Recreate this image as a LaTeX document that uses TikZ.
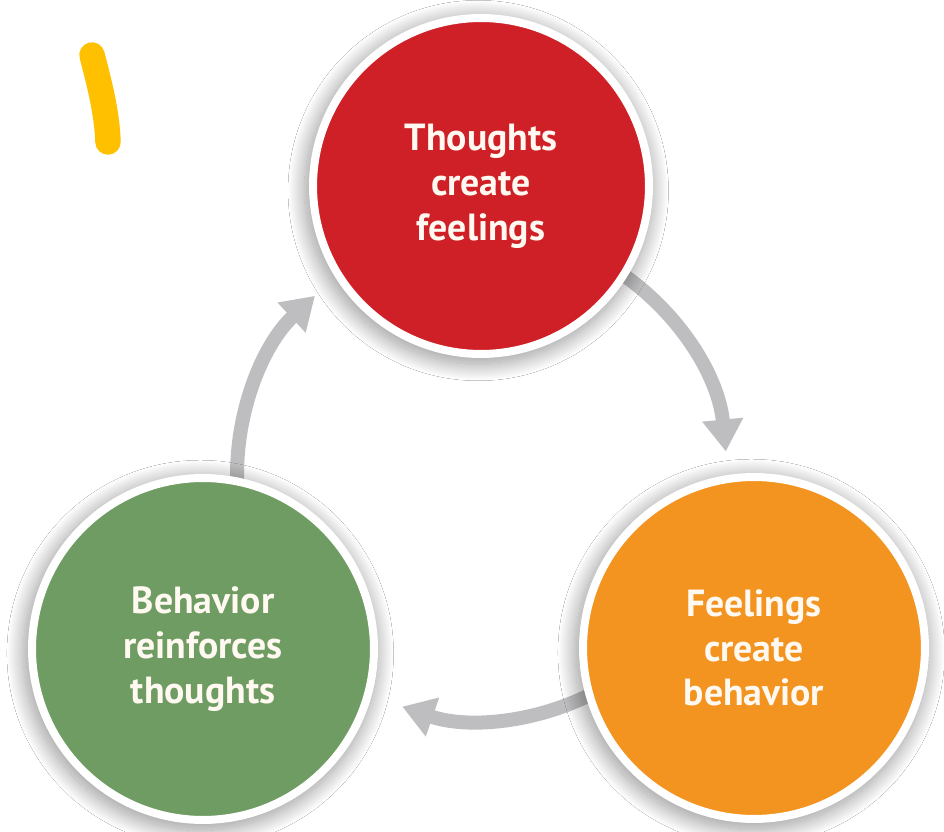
\documentclass[tikz,border=0pt]{standalone}
\usepackage{fontspec}
\setmainfont{PT Sans}
\usetikzlibrary{arrows.meta,shadows.blur,calc}
\definecolor{cred}{HTML}{CF2027}
\definecolor{corange}{HTML}{F39420}
\definecolor{cgreen}{HTML}{6F9C62}
\definecolor{agray}{HTML}{BEBEC0}
\definecolor{cyellow}{HTML}{FFC000}
\definecolor{textw}{HTML}{FFF9F2}
\begin{document}
\begin{tikzpicture}[x=0.02cm,y=0.02cm,
  bubble/.style={circle, draw=white, line width=0.16cm, text=textw,
    font=\bfseries\fontsize{21.5}{25.5}\selectfont, align=center, inner sep=0pt,
    blur shadow={shadow xshift=-1.5pt, shadow yshift=-2.5pt, shadow scale=1.035,
      shadow opacity=40, shadow blur radius=9pt, shadow blur steps=30}},
  arr/.style={draw=agray, line width=0.28cm,
    -{Triangle[width=0.78cm,length=0.64cm]}}]
\fill[white] (0,0) rectangle (944,832);
\useasboundingbox (0,0) rectangle (944,832);
% highlighter stroke
\draw[cyellow, line width=14.5pt, line cap=round] (92,777) .. controls (99,750) and (107,720) .. (108,690);
% arc centre and arrow starts
\coordinate (C) at (482,357);
\coordinate (a1s) at ($(C)+(183:4.9cm)$);
\coordinate (a2s) at ($(C)+(60:4.9cm)$);
\coordinate (a3s) at ($(C)+(-60:4.9cm)$);
\draw[arr] (a1s) arc[start angle=183, end angle=133, radius=4.9cm];
\draw[arr] (a2s) arc[start angle=60, end angle=5.5, radius=4.9cm];
\draw[arr] (a3s) arc[start angle=-60, end angle=-109, radius=4.9cm];
% circles
\node[bubble, fill=cred, minimum size=6.72cm] (red) at (481,646) {Thoughts\\create\\feelings};
\node[bubble, fill=cgreen, minimum size=6.84cm] (green) at (203,183) {Behavior\\reinforces\\thoughts};
\node[bubble, fill=corange, minimum size=6.84cm] (orange) at (754,184) {Feelings\\create\\behavior};
\end{tikzpicture}
\end{document}
